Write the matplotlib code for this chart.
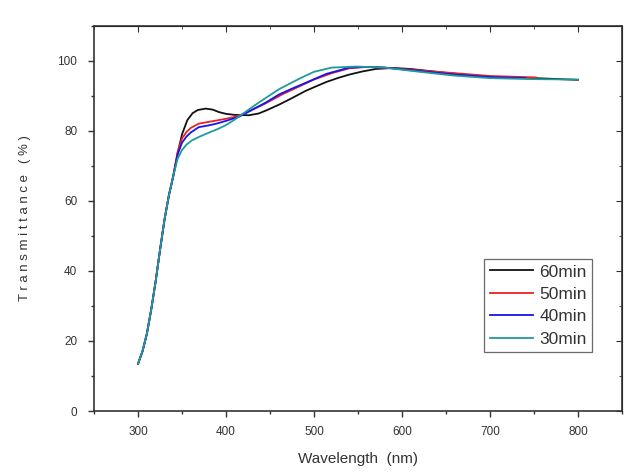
import numpy as np
import matplotlib.pyplot as plt
from matplotlib.ticker import MultipleLocator

plt.rcParams['font.family'] = ['Liberation Sans', 'DejaVu Sans']

# common steep rise (all samples overlap here)
rise_x = [300, 305, 310, 315, 320, 325, 330, 335, 340]
rise_y = [13.5, 17.0, 22.0, 29.0, 37.0, 46.0, 54.5, 61.5, 67.0]

# 60 min
x60 = rise_x + [345, 350, 356, 362, 368, 377, 385, 392, 400, 410, 426, 437, 445, 460,
                475, 490, 500, 514, 528, 540, 555, 570, 590, 610, 650, 700, 750, 800]
y60 = rise_y + [73.5, 79.0, 83.0, 85.0, 85.9, 86.3, 86.0, 85.3, 84.8, 84.5, 84.4, 84.9,
                85.7, 87.4, 89.3, 91.3, 92.4, 93.9, 95.1, 96.0, 96.9, 97.6, 97.9, 97.6,
                96.5, 95.3, 95.0, 94.5]

# 50 min
x50 = rise_x + [345, 350, 355, 360, 369, 380, 389, 400, 411, 420, 445, 465, 483, 500,
                520, 540, 560, 580, 620, 660, 700, 752]
y50 = rise_y + [74.0, 77.8, 79.6, 80.8, 82.0, 82.5, 82.9, 83.4, 84.0, 84.8, 87.8, 90.5,
                92.6, 94.6, 96.4, 97.8, 98.2, 98.0, 97.2, 96.4, 95.6, 95.2]

# 40 min
x40 = rise_x + [345, 350, 355, 360, 369, 380, 389, 400, 415, 430, 445, 460, 475, 490,
                514, 540, 560, 580, 620, 660, 700, 740]
y40 = rise_y + [73.2, 76.6, 78.3, 79.5, 81.0, 81.5, 82.0, 82.8, 84.0, 86.0, 88.0, 90.3,
                92.0, 93.6, 96.2, 98.0, 98.2, 98.0, 97.0, 96.0, 95.3, 95.0]

# 30 min
x30 = rise_x + [345, 350, 355, 361, 370, 381, 390, 400, 410, 420, 437, 460, 483, 500,
                520, 548, 580, 620, 660, 700, 750, 800]
y30 = rise_y + [72.0, 74.5, 76.0, 77.2, 78.3, 79.5, 80.4, 81.6, 83.2, 85.0, 88.0, 91.8,
                94.8, 96.8, 98.0, 98.3, 98.0, 96.8, 95.7, 95.0, 94.7, 94.6]

fig = plt.figure(figsize=(6.27, 4.73), dpi=100)
ax = fig.add_axes([0.150, 0.131, 0.842, 0.815])

ax.plot(x60, y60, color='#111111', lw=1.3, label='60min')
ax.plot(x50, y50, color='#ee2020', lw=1.3, label='50min')
ax.plot(x40, y40, color='#1515ee', lw=1.3, label='40min')
ax.plot(x30, y30, color='#209a9a', lw=1.3, label='30min')

ax.set_xlim(250, 850)
ax.set_ylim(0, 110)
ax.set_xticks([300, 400, 500, 600, 700, 800])
ax.xaxis.set_minor_locator(MultipleLocator(50))
ax.yaxis.set_major_locator(MultipleLocator(20))
ax.yaxis.set_minor_locator(MultipleLocator(10))

ax.tick_params(which='both', direction='out', top=False, right=False,
               labelsize=8.5, labelcolor='#333333', width=1, color='#333333')
ax.tick_params(axis='x', which='major', length=4, pad=7)
ax.tick_params(axis='y', which='major', length=4, pad=8)
ax.tick_params(which='minor', length=2.5)

# mirrored inward ticks on top and right
axt = ax.secondary_xaxis('top')
axt.set_xticks([300, 400, 500, 600, 700, 800])
axt.xaxis.set_minor_locator(MultipleLocator(50))
axt.tick_params(which='both', direction='in', labeltop=False, color='#333333')
axt.tick_params(which='major', length=4)
axt.tick_params(which='minor', length=2.5)
axr = ax.secondary_yaxis('right')
axr.yaxis.set_major_locator(MultipleLocator(20))
axr.yaxis.set_minor_locator(MultipleLocator(10))
axr.tick_params(which='both', direction='in', labelright=False, color='#333333')
axr.tick_params(which='major', length=4)
axr.tick_params(which='minor', length=2.5)

for s in ax.spines.values():
    s.set_color('#333333')
    s.set_linewidth(1.2)

ax.set_xlabel('Wavelength  (nm)', fontsize=11, color='#333333', labelpad=10)
ax.set_ylabel('T r a n s m i t t a n c e   ( % )', fontsize=9.5, color='#333333',
              labelpad=19)

leg = ax.legend(loc='lower right', bbox_to_anchor=(0.943, 0.153), borderaxespad=0,
                fontsize=12.5, fancybox=False, frameon=True, handlelength=2.5,
                handletextpad=0.35, labelspacing=0.42, borderpad=0.3)
leg.get_frame().set_edgecolor('#444444')
leg.get_frame().set_linewidth(0.9)
for t in leg.get_texts():
    t.set_color('#333333')

fig.savefig('out.png', dpi=100)
